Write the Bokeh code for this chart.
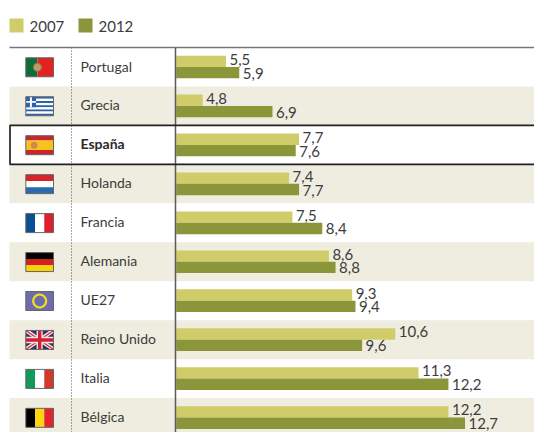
from bokeh.plotting import figure
from bokeh.models import Range1d
from bokeh.embed import file_html
from bokeh.resources import INLINE
from bokeh.core.properties import value

countries = ["Portugal", "Grecia", "España", "Holanda", "Francia", "Alemania", "UE27", "Reino Unido", "Italia", "Bélgica"]
v2007 = [5.5, 4.8, 7.7, 7.4, 7.5, 8.6, 9.3, 10.6, 11.3, 12.2]
v2012 = [5.9, 6.9, 7.6, 7.7, 8.4, 8.8, 9.4, 9.6, 12.2, 12.7]
labels2007 = ["5,5", "4,8", "7,7", "7,4", "7,5", "8,6", "9,3", "10,6", "11,3", "12,2"]
labels2012 = ["5,9", "6,9", "7,6", "7,7", "8,4", "8,8", "9,4", "9,6", "12,2", "12,7"]
series_names = ["2007", "2012"]

C07, C12, BAND, TXT = "#cfcc69", "#8a9639", "#efeddf", "#3c3c3c"
FONT = value("Lato")
W, H = 534, 432
ROW0, PITCH = 66.5, 38.95
PXU, X0 = 33.2, 175.7

p = figure(width=W, height=H, output_backend="svg", toolbar_location=None,
           x_range=Range1d(0, W), y_range=Range1d(H, 0), min_border=0, outline_line_color=None,
           border_fill_color="white", background_fill_color="white")
p.xaxis.visible = False
p.yaxis.visible = False
p.grid.visible = False
p.extra_x_ranges["val"] = Range1d(4 + (0 - X0) / PXU, 4 + (W - X0) / PXU)
p.extra_y_ranges["row"] = Range1d((H - ROW0) / PITCH, (0 - ROW0) / PITCH)

n = len(countries)
rows = list(range(n))
band_rows = [1, 3, 5, 7, 9]
p.quad(left=9, right=W + 5, top=[r - 0.5 for r in band_rows], bottom=[r + 0.5 for r in band_rows],
       y_range_name="row", fill_color=BAND, line_color=None)

bh = 0.292
p.hbar(y=[r - bh / 2 for r in rows], left=4, right=v2007, height=bh, x_range_name="val", y_range_name="row",
       fill_color=C07, line_color=None)
p.hbar(y=[r + bh / 2 for r in rows], left=4, right=v2012, height=bh, x_range_name="val", y_range_name="row",
       fill_color=C12, line_color=None)

p.text(x=v2007, y=[r - bh / 2 for r in rows], text=labels2007, x_range_name="val", y_range_name="row",
       x_offset=3.5, y_offset=-2, text_font=FONT, text_font_size="15px", text_color=TXT, text_baseline="middle")
p.text(x=v2012, y=[r + bh / 2 for r in rows], text=labels2012, x_range_name="val", y_range_name="row",
       x_offset=3.5, y_offset=0.5, text_font=FONT, text_font_size="15px", text_color=TXT, text_baseline="middle")

plain = [i for i in rows if countries[i] != "España"]
p.text(x=80, y=plain, text=[countries[i] for i in plain], y_range_name="row", y_offset=-1,
       text_font=FONT, text_font_size="14px", text_color=TXT, text_baseline="middle")
p.text(x=80, y=[2], text=["España"], y_range_name="row", y_offset=-1,
       text_font=FONT, text_font_size="14px", text_font_style="bold", text_color="#2a2a2a", text_baseline="middle")

p.segment(x0=9, x1=W + 5, y0=[47], y1=[47], line_color="#777777", line_width=1.5)
p.segment(x0=71, x1=71, y0=[47], y1=[H], line_color="#555555", line_width=1, line_dash="1 2")
p.segment(x0=175, x1=175, y0=[47], y1=[H], line_color="#5a5a5a", line_width=1.5)
p.quad(left=9.5, right=W + 5, top=1.5, bottom=2.5, y_range_name="row", fill_color=None, line_color="#222222", line_width=1.7)

p.quad(left=[9, 78], right=[23, 92], top=[18, 18], bottom=[32, 32], fill_color=[C07, C12], line_color=None)
p.text(x=[29, 98], y=[25.5, 25.5], text=series_names, text_font=FONT, text_font_size="15px",
       text_color=TXT, text_baseline="middle")

FX0, FX1, FH = 25.3, 53, 9.5
def fy(row, t):
    return ROW0 + PITCH * row + 0.3 + (t - 0.5) * 2 * FH
def fx(t):
    return FX0 + (FX1 - FX0) * t
def vstripes(row, colors, widths=None):
    widths = widths or [1 / len(colors)] * len(colors)
    a = 0
    for c, w in zip(colors, widths):
        p.quad(left=fx(a), right=fx(a + w), top=fy(row, 0), bottom=fy(row, 1), fill_color=c, line_color=None)
        a += w
def hstripes(row, colors, widths=None):
    widths = widths or [1 / len(colors)] * len(colors)
    a = 0
    for c, w in zip(colors, widths):
        p.quad(left=fx(0), right=fx(1), top=fy(row, a), bottom=fy(row, a + w), fill_color=c, line_color=None)
        a += w
def box(row):
    p.quad(left=fx(0), right=fx(1), top=fy(row, 0), bottom=fy(row, 1), fill_color=None, line_color="#666666", line_width=1)

vstripes(0, ["#0f6b3a", "#e2231f"], [0.42, 0.58])
p.scatter(x=[fx(0.42)], y=[fy(0, 0.5)], size=8, marker="circle", fill_color="#b9a060", line_color="#a8705a", line_width=1)
hstripes(1, ["#2a63ae", "#ffffff"] * 4 + ["#2a63ae"])
p.quad(left=fx(0), right=fx(0.37), top=fy(1, 0), bottom=fy(1, 0.55), fill_color="#2a63ae", line_color=None)
p.quad(left=fx(0.15), right=fx(0.22), top=fy(1, 0), bottom=fy(1, 0.55), fill_color="#ffffff", line_color=None)
p.quad(left=fx(0), right=fx(0.37), top=fy(1, 0.23), bottom=fy(1, 0.32), fill_color="#ffffff", line_color=None)
hstripes(2, ["#c8262b", "#f6c21c", "#c8262b"], [0.25, 0.5, 0.25])
p.scatter(x=[fx(0.3)], y=[fy(2, 0.5)], size=7, marker="circle", fill_color="#d08a50", line_color=None)
hstripes(3, ["#d8232a", "#ffffff", "#2a6bb0"])
vstripes(4, ["#0b4f93", "#ffffff", "#df1f2d"])
hstripes(5, ["#000000", "#d8201f", "#f6d30a"])
vstripes(6, ["#6f6cae"])
p.scatter(x=[fx(0.5)], y=[fy(6, 0.5)], size=13, marker="circle", fill_color=None, line_color="#f2e21a", line_width=2.2)
vstripes(7, ["#2a3565"])
p.multi_line(xs=[[fx(0), fx(1)], [fx(0), fx(1)]], ys=[[fy(7, 0), fy(7, 1)], [fy(7, 1), fy(7, 0)]],
             line_color="#f3dcdf", line_width=4)
p.multi_line(xs=[[fx(0), fx(1)], [fx(0), fx(1)]], ys=[[fy(7, 0), fy(7, 1)], [fy(7, 1), fy(7, 0)]],
             line_color="#cf3045", line_width=1.2)
p.quad(left=fx(0), right=fx(1), top=fy(7, 0.33), bottom=fy(7, 0.67), fill_color="#f5e4e6", line_color=None)
p.quad(left=fx(0.39), right=fx(0.61), top=fy(7, 0), bottom=fy(7, 1), fill_color="#f5e4e6", line_color=None)
p.quad(left=fx(0), right=fx(1), top=fy(7, 0.41), bottom=fy(7, 0.59), fill_color="#d0202f", line_color=None)
p.quad(left=fx(0.44), right=fx(0.56), top=fy(7, 0), bottom=fy(7, 1), fill_color="#d0202f", line_color=None)
vstripes(8, ["#109a5c", "#ffffff", "#cf3a2a"])
vstripes(9, ["#000000", "#fbd514", "#e0252c"])
for r in rows:
    box(r)

open("out.html", "w").write(file_html(p, INLINE))
